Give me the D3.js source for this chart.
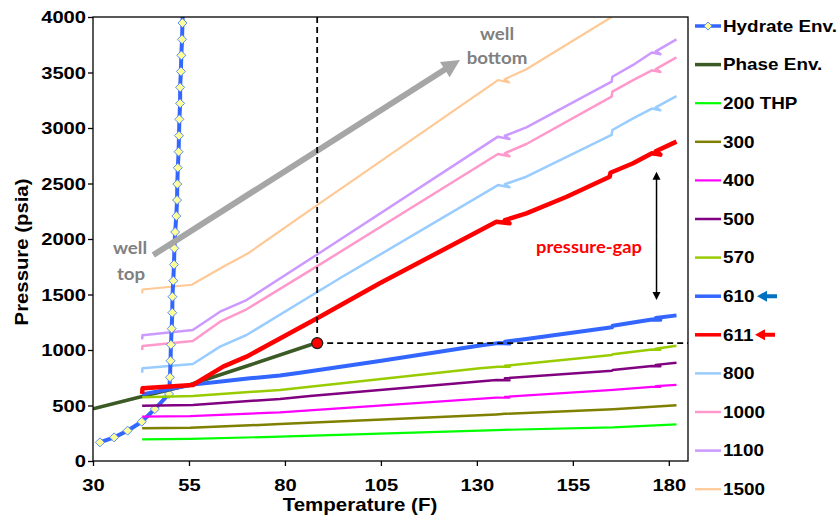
<!DOCTYPE html>
<html>
<head>
<meta charset="utf-8">
<script src="https://cdn.jsdelivr.net/npm/d3@7"></script>
<style>
  body { margin: 0; background: #fff; }
  svg { display: block; }
</style>
</head>
<body>
<svg id="chart" width="838" height="521"></svg>
<script>
// axis ticks
const tempTicks = [30, 55, 80, 105, 130, 155, 180];
const pressureTicks = [0, 500, 1000, 1500, 2000, 2500, 3000, 3500, 4000];

// [temperature F, pressure psia]
const hydrateEnv = [[31.8,168],[35.5,213],[39.0,273],[42.7,354],[46.1,468],[49.8,604],[50.05,754],[50.2,903],[50.3,1048],[50.5,1192],[50.65,1336],[50.7,1480],[50.9,1624],[51.1,1769],[51.2,1916],[51.4,2063],[51.7,2207],[51.9,2351],[51.95,2495],[52.1,2642],[52.3,2786],[52.4,2931],[52.5,3078],[52.7,3222],[52.7,3366],[52.9,3510],[53.0,3655],[53.2,3799],[53.3,3946],[53.45,4090]];
const phaseEnv = [[30,471],[42.5,579],[55,685],[70.9,865],[86.5,1045],[88.4,1062]];
const thp200 = [[42.8,195],[55.3,200],[78.7,219],[135.1,279],[165.5,303],[182,330]];
const thp300 = [[42.8,294],[55.3,299],[78.7,333],[135.1,420],[137.3,425],[165.5,466],[182,502]];
const thp400 = [[42.8,400],[55.3,405],[78.7,438],[135.1,571],[138.5,570],[137.3,578],[165.5,640],[175.6,668],[177.8,667],[176.6,674],[182,685]];
const thp500 = [[42.8,498],[56,505],[78.7,559],[86.5,586],[135.1,730],[138.5,728],[137.3,745],[165.2,814],[165.4,820],[175.6,855],[177.8,853],[176.6,866],[182,886]];
const thp570 = [[42.8,574],[56,586],[78.7,640],[86.5,669],[130.8,835],[135.5,850],[138.5,848],[137.3,858],[165.2,955],[165.4,962],[175.6,1005],[177.8,1003],[176.6,1012],[182,1039]];
const thp610 = [[42.8,600],[56,688],[63.9,718],[70.9,745],[78.7,770],[83.9,795],[104.7,901],[130.8,1040],[135.5,1062],[138.5,1058],[137.3,1075],[142.9,1100],[165.2,1205],[165.4,1218],[175.6,1275],[177.8,1272],[176.6,1288],[182,1312]];
const thp611 = [[42.8,604],[42.9,655],[56,685],[63.9,850],[70,940],[88.4,1286],[104.7,1601],[135.1,2156],[138.5,2141],[137.3,2170],[142.9,2231],[153.4,2381],[164.6,2561],[164.8,2597],[170.7,2682],[175.6,2772],[177.8,2760],[176.6,2790],[182,2877]];
const thp800 = [[42.8,795],[42.9,835],[56,874],[63.1,1030],[70,1135],[94.3,1646],[135.5,2486],[138.5,2466],[137.3,2494],[142.9,2561],[165.1,2937],[165.3,2982],[170.7,3087],[175.6,3175],[177.8,3160],[176.6,3185],[182,3288]];
const thp1000 = [[42.8,1000],[42.9,1036],[56,1081],[63.1,1255],[70,1367],[88.2,1751],[135.5,2766],[138.5,2746],[137.3,2774],[142.9,2856],[165.1,3282],[165.3,3327],[170.7,3432],[175.6,3520],[177.8,3505],[176.6,3530],[182,3637]];
const thp1100 = [[42.8,1095],[42.9,1132],[56,1180],[63.1,1345],[70,1450],[88.2,1856],[135.5,2922],[138.5,2900],[137.3,2930],[142.9,3006],[165.1,3417],[165.3,3462],[170.7,3568],[175.6,3680],[177.8,3665],[176.6,3690],[182,3799]];
const thp1500 = [[42.8,1510],[42.9,1545],[55.7,1588],[63.9,1750],[70.4,1871],[88.2,2300],[135.5,3432],[138.4,3410],[137.2,3440],[142.9,3529],[165.1,4000]];

// annotations
const critPoint = [88.4, 1062];
const wellArrow = [[45.7, 1856], [125.6, 3613]];
const gapArrow = [[176.8, 2605], [176.8, 1450]];

const series = [
    { name: "800", data: thp800, color: "#99ccff", width: 2.5 },
    { name: "1000", data: thp1000, color: "#ff99cc", width: 2.5 },
    { name: "1100", data: thp1100, color: "#cc99ff", width: 2.5 },
    { name: "1500", data: thp1500, color: "#ffc996", width: 2.2 },
    { name: "Hydrate Env.", data: hydrateEnv, color: "#3366ff", width: 4, marker: true },
    { name: "Phase Env.", data: phaseEnv, color: "#3b5a26", width: 3.5 },
    { name: "200 THP", data: thp200, color: "#00ff00", width: 2.2 },
    { name: "300", data: thp300, color: "#808000", width: 2.5 },
    { name: "400", data: thp400, color: "#ff00ff", width: 2.2 },
    { name: "500", data: thp500, color: "#800080", width: 2.5 },
    { name: "570", data: thp570, color: "#99cc00", width: 2.5 },
    { name: "610", data: thp610, color: "#3366ff", width: 4 },
    { name: "611", data: thp611, color: "#ff0000", width: 4.5 },
];
const legendOrder = ["Hydrate Env.", "Phase Env.", "200 THP", "300", "400", "500", "570", "610", "611", "800", "1000", "1100", "1500"];

const FONT = "'Liberation Sans', Arial, sans-serif";
const SX = 1.18; // text in the picture is a bit wide

const svg = d3.select("#chart");
svg.append("rect").attr("width", 838).attr("height", 521).attr("fill", "#fff");

const x = d3.scaleLinear().domain([30, 185]).range([93, 688]);
const y = d3.scaleLinear().domain([0, 4000]).range([461, 17]);

svg.append("clipPath").attr("id", "plot-clip")
    .append("rect").attr("x", 93).attr("y", 17).attr("width", 595).attr("height", 444);

const line = d3.line().x(d => x(d[0])).y(d => y(d[1]));

const gPlot = svg.append("g").attr("clip-path", "url(#plot-clip)");

// arrow helper, works in pixels
function drawArrow(g, p0, p1, color, w, headLen, headHalf) {
    const dx = p1[0] - p0[0], dy = p1[1] - p0[1];
    const len = Math.hypot(dx, dy), ux = dx / len, uy = dy / len;
    const bx = p1[0] - ux * headLen, by = p1[1] - uy * headLen;
    g.append("line")
        .attr("x1", p0[0]).attr("y1", p0[1]).attr("x2", bx + ux).attr("y2", by + uy)
        .attr("stroke", color).attr("stroke-width", w);
    g.append("path")
        .attr("d", `M${p1[0]},${p1[1]}L${bx - uy * headHalf},${by + ux * headHalf}L${bx + uy * headHalf},${by - ux * headHalf}Z`)
        .attr("fill", color);
}

// gray "well top -> well bottom" arrow
const wa0 = [x(wellArrow[0][0]), y(wellArrow[0][1])];
const wa1 = [x(wellArrow[1][0]), y(wellArrow[1][1])];
drawArrow(svg, wa0, wa1, "#a6a6a6", 6, 18, 9);

// series lines
series.forEach(s => {
    gPlot.append("path")
        .datum(s.data)
        .attr("fill", "none")
        .attr("stroke", s.color)
        .attr("stroke-width", s.width)
        .attr("stroke-linejoin", "round")
        .attr("d", line);
    if (s.marker) {
        gPlot.append("g").selectAll("path")
            .data(s.data)
            .join("path")
            .attr("transform", d => `translate(${x(d[0])},${y(d[1])})`)
            .attr("d", "M0,-4.5L4.5,0L0,4.5L-4.5,0Z")
            .attr("fill", "#ffff99")
            .attr("stroke", "#5a8cff")
            .attr("stroke-width", 1);
    }
});

// dashed guide lines through the critical point
svg.append("line")
    .attr("x1", x(critPoint[0])).attr("x2", x(critPoint[0]))
    .attr("y1", y(4000)).attr("y2", y(critPoint[1]))
    .attr("stroke", "#000").attr("stroke-width", 1.8).attr("stroke-dasharray", "6,4");
svg.append("line")
    .attr("x1", x(critPoint[0])).attr("x2", 688)
    .attr("y1", y(critPoint[1])).attr("y2", y(critPoint[1]))
    .attr("stroke", "#000").attr("stroke-width", 1.8).attr("stroke-dasharray", "6,4");
svg.append("circle")
    .attr("cx", x(critPoint[0])).attr("cy", y(critPoint[1])).attr("r", 5.5)
    .attr("fill", "#ff0000").attr("stroke", "#202020").attr("stroke-width", 1.2);

// pressure-gap double arrow
{
    const a = [x(gapArrow[0][0]), y(gapArrow[0][1])];
    const b = [x(gapArrow[1][0]), y(gapArrow[1][1])];
    const mid = [a[0], (a[1] + b[1]) / 2];
    drawArrow(svg, mid, a, "#000", 1.5, 8, 4);
    drawArrow(svg, mid, b, "#000", 1.5, 8, 4);
}

// plot frame
svg.append("rect")
    .attr("x", 93).attr("y", 17).attr("width", 595).attr("height", 444)
    .attr("fill", "none").attr("stroke", "#000").attr("stroke-width", 1.3);

// axes
const TICK_SX = 1.26;
const xAxis = svg.append("g")
    .attr("transform", "translate(0,461)")
    .call(d3.axisBottom(x).tickValues(tempTicks).tickFormat(d3.format("d")).tickSize(5).tickSizeOuter(0));
xAxis.select(".domain").remove();
xAxis.selectAll(".tick line").attr("stroke", "#000").attr("stroke-width", 1.3);
xAxis.selectAll(".tick text")
    .attr("y", 0).attr("dy", 0)
    .attr("transform", `translate(0,30) scale(${TICK_SX},1)`)
    .attr("font-family", FONT).attr("font-weight", "bold").attr("font-size", 16).attr("fill", "#000");

const yAxis = svg.append("g")
    .attr("transform", "translate(93,0)")
    .call(d3.axisLeft(y).tickValues(pressureTicks).tickFormat(d3.format("d")).tickSize(5).tickSizeOuter(0));
yAxis.select(".domain").remove();
yAxis.selectAll(".tick line").attr("stroke", "#000").attr("stroke-width", 1.3);
yAxis.selectAll(".tick text")
    .attr("x", 0).attr("dy", 0)
    .attr("transform", `translate(-7,5.8) scale(${TICK_SX},1)`)
    .attr("font-family", FONT).attr("font-weight", "bold").attr("font-size", 16).attr("fill", "#000");

function stretchedText(g, px, py, str, size, opts = {}) {
    return g.append("text")
        .attr("transform", `translate(${px},${py}) ${opts.rotate ? `rotate(${opts.rotate})` : ""} scale(${opts.sx || SX},1)`)
        .attr("text-anchor", opts.anchor || "start")
        .attr("font-family", opts.family || FONT)
        .attr("font-weight", "bold")
        .attr("font-size", size)
        .attr("fill", opts.fill || "#000")
        .text(str);
}

// axis titles
stretchedText(svg, 360, 511, "Temperature (F)", 18, { anchor: "middle", sx: 1.14 });
stretchedText(svg, 28, 252, "Pressure (psia)", 18, { anchor: "middle", rotate: -90, sx: 1.13 });

// annotation labels
const CAL = "Lato, 'Open Sans', sans-serif";
stretchedText(svg, 130, 254, "well", 17, { anchor: "middle", family: CAL, fill: "#808080", sx: 1.1 });
stretchedText(svg, 131, 280, "top", 17, { anchor: "middle", family: CAL, fill: "#808080", sx: 1.1 });
stretchedText(svg, 497, 40, "well", 17, { anchor: "middle", family: CAL, fill: "#808080", sx: 1.1 });
stretchedText(svg, 497, 64, "bottom", 17, { anchor: "middle", family: CAL, fill: "#808080", sx: 1.1 });
stretchedText(svg, 589, 253, "pressure-gap", 17, { anchor: "middle", family: CAL, fill: "#ff0000", sx: 1.08 });

// legend
const legend = svg.append("g");
legendOrder.forEach((name, i) => {
    const s = series.find(d => d.name === name);
    const ly = 26 + i * 38.6;
    legend.append("line")
        .attr("x1", 695).attr("x2", 721).attr("y1", ly).attr("y2", ly)
        .attr("stroke", s.color).attr("stroke-width", Math.min(s.width, 3.5));
    if (s.marker) {
        legend.append("path")
            .attr("transform", `translate(708,${ly})`)
            .attr("d", "M0,-4L4,0L0,4L-4,0Z")
            .attr("fill", "#ffff99").attr("stroke", "#5a8cff").attr("stroke-width", 1);
    }
    stretchedText(legend, 723, ly + 5.8, name, 16);
});

// little arrows pointing at 610 / 611 in the legend
function legendArrow(tipX, cy, color) {
    legend.append("path")
        .attr("d", `M${tipX},${cy}L${tipX + 10},${cy - 5.5}L${tipX + 10},${cy - 2}L${tipX + 20},${cy - 2}L${tipX + 20},${cy + 2}L${tipX + 10},${cy + 2}L${tipX + 10},${cy + 5.5}Z`)
        .attr("fill", color);
}
legendArrow(757, 26 + 7 * 38.6, "#0070c0");
legendArrow(755, 26 + 8 * 38.6, "#ff0000");
</script>
</body>
</html>
